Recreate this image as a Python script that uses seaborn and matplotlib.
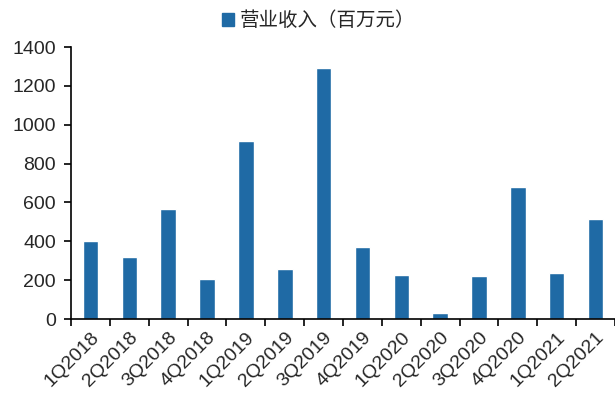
import matplotlib
matplotlib.use("Agg")
import matplotlib.pyplot as plt
import seaborn as sns
import pandas as pd
from matplotlib.patches import Patch

# Quarterly revenue data (million yuan)
quarters = ['1Q2018', '2Q2018', '3Q2018', '4Q2018', '1Q2019', '2Q2019', '3Q2019',
            '4Q2019', '1Q2020', '2Q2020', '3Q2020', '4Q2020', '1Q2021', '2Q2021']
revenue = [401, 320, 564, 205, 916, 255, 1292, 369, 226, 32, 222, 677, 239, 515]
series_name = '营业收入（百万元）'
bar_color = '#1f6aa5'

sns.set_style('white')
plt.rcParams['font.family'] = ['Liberation Sans', 'Noto Sans CJK SC', 'DejaVu Sans']

df = pd.DataFrame({'Quarter': quarters, 'Revenue': revenue})

fig = plt.figure(figsize=(6.15, 4.0), dpi=100)
ax = fig.add_axes([0.1155, 0.2025, 0.8845, 0.68])

sns.barplot(data=df, x='Quarter', y='Revenue', color=bar_color, width=0.4,
            saturation=1, ax=ax)

# axes styling
ax.set_xlim(-0.5, len(quarters) - 0.5)
ax.set_ylim(0, 1400)
ax.set_yticks(range(0, 1401, 200))
ax.set_xlabel('')
ax.set_ylabel('')
for side in ['top', 'right']:
    ax.spines[side].set_visible(False)
for side in ['left', 'bottom']:
    ax.spines[side].set_color('black')
    ax.spines[side].set_linewidth(1.2)

# labels at category centers, tick marks at category boundaries
ax.set_xticks(range(len(quarters)))
ax.set_xticklabels(quarters, rotation=45, ha='right', rotation_mode='anchor')
ax.set_xticks([i - 0.5 for i in range(len(quarters) + 1)], minor=True)
ax.tick_params(axis='x', which='major', length=0, labelsize=14, pad=7)
ax.tick_params(axis='x', which='minor', length=5, width=1.2, color='black', direction='out', bottom=True)
ax.tick_params(axis='y', length=5, width=1.2, color='black', direction='out', left=True, labelsize=14, pad=6)

# legend above the plot
handle = Patch(facecolor=bar_color, edgecolor=bar_color)
fig.legend([handle], [series_name], loc='center', bbox_to_anchor=(0.518, 0.948),
           frameon=False, handlelength=0.6, handleheight=0.6,
           handletextpad=0.3, prop={'family': ['Noto Sans CJK SC'], 'size': 14})

fig.savefig('out.png', dpi=100)
plt.close('all')
